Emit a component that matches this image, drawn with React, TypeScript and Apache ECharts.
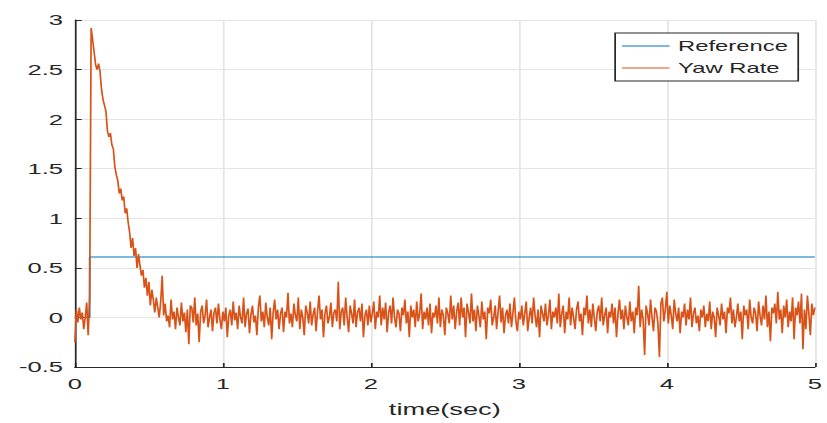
import React, { useEffect, useRef } from "react";
import * as echarts from "echarts";

// sampling step of the recorded signal (seconds)
const sampleStep = 0.01;

// Reference command (step at t = 0.1 s)
const referenceTimes = [0, 0.1, 0.1, 5];
const referenceValues = [0, 0, 0.61, 0.61];

// Yaw rate, t = 0.00 .. 0.10 s
const yawRatePre = [-0.25, 0.08, -0.05, 0.1, -0.02, 0.05, -0.12, 0.0, 0.15, -0.18, 0.22];

// Yaw rate, t = 0.11 .. 0.59 s (overshoot and decay)
const yawRateDecay = [
  2.92, 2.8, 2.68, 2.55, 2.5, 2.56, 2.48, 2.3, 2.2, 2.14, 2.08, 1.88, 1.82, 1.86, 1.74, 1.7, 1.52, 1.44, 1.38, 1.25,
  1.3, 1.18, 1.22, 1.05, 1.1, 0.96, 0.86, 0.7, 0.8, 0.62, 0.7, 0.5, 0.64, 0.52, 0.42, 0.48, 0.3, 0.4, 0.22, 0.36,
  0.12, 0.28, 0.18, 0.05, 0.2, 0.1, 0.0, 0.16, 0.42,
];

// Yaw rate, t = 0.60 .. 5.00 s (steady state noise)
const yawRateSteady = [
  0.02, 0.14, -0.04, 0.02, -0.1, 0.18, -0.02, 0.06, -0.12, 0.1, 0.0, -0.08, 0.15, -0.04, 0.05, -0.15, 0.08, -0.27, 0.12, 0.1,
  -0.05, 0.2, -0.08, 0.04, -0.25, 0.06, 0.12, -0.06, 0.02, 0.18, -0.1, 0.0, 0.08, -0.14, 0.05, 0.1, -0.06, 0.14, -0.02, -0.12,
  0.06, -0.04, 0.1, -0.2, 0.02, 0.08, -0.08, 0.16, -0.03, 0.05, -0.12, 0.12, 0.0, -0.06, 0.2, -0.1, 0.04, 0.09, -0.16, 0.03,
  0.12, -0.05, 0.02, -0.18, 0.1, 0.22, -0.04, 0.06, -0.1, 0.15, 0.0, -0.08, 0.1, -0.22, 0.05, 0.18, -0.02, 0.08, -0.12, 0.04,
  0.1, -0.15, 0.06, 0.0, 0.25, -0.06, 0.04, -0.1, 0.14, 0.02, -0.04, 0.2, -0.12, 0.08, 0.0, -0.18, 0.12, 0.05, -0.06, 0.16,
  -0.08, 0.03, 0.1, -0.14, 0.06, 0.22, -0.02, 0.08, -0.2, 0.04, 0.12, -0.06, 0.0, 0.15, -0.1, 0.05, 0.08, -0.04, 0.36, -0.12,
  0.06, 0.1, -0.08, 0.2, 0.0, -0.15, 0.12, 0.04, -0.06, 0.18, -0.1, 0.05, 0.1, -0.04, 0.14, -0.2, 0.02, 0.08, -0.08, 0.12,
  -0.05, 0.04, 0.16, -0.12, 0.06, 0.0, 0.22, -0.08, 0.1, -0.02, 0.15, -0.15, 0.05, 0.12, -0.06, 0.2, 0.0, -0.1, 0.08, 0.04,
  -0.14, 0.1, 0.02, 0.18, -0.06, 0.06, -0.2, 0.12, 0.0, 0.08, -0.1, 0.16, -0.04, 0.04, 0.24, -0.12, 0.06, -0.02, 0.1, -0.08,
  0.14, -0.16, 0.05, 0.0, 0.12, -0.06, 0.2, -0.1, 0.08, 0.02, -0.18, 0.1, 0.04, -0.06, 0.22, -0.02, 0.12, -0.12, 0.06, 0.15,
  -0.08, 0.2, 0.0, 0.1, -0.2, 0.14, 0.05, -0.06, 0.24, -0.04, 0.08, -0.14, 0.12, 0.02, -0.1, 0.16, -0.02, 0.06, -0.22, 0.1,
  0.04, 0.18, -0.08, 0.0, 0.12, -0.12, 0.06, 0.22, -0.05, 0.1, -0.16, 0.02, 0.08, -0.06, 0.14, -0.1, 0.04, 0.2, -0.04, -0.14,
  0.06, -0.02, 0.12, -0.08, 0.04, 0.16, -0.14, 0.0, 0.1, -0.06, 0.2, 0.02, -0.1, 0.08, -0.2, 0.12, 0.04, -0.04, 0.14, -0.08,
  0.02, 0.18, -0.12, 0.06, 0.0, 0.1, -0.06, 0.24, -0.1, 0.04, 0.12, -0.16, 0.06, -0.02, 0.2, -0.08, 0.1, 0.0, -0.12, 0.08,
  0.16, -0.04, 0.04, -0.18, 0.1, 0.02, 0.22, -0.06, 0.08, -0.1, 0.14, 0.0, -0.14, 0.06, 0.12, -0.04, 0.2, -0.08, 0.02, 0.1,
  -0.16, 0.06, 0.0, 0.14, -0.06, 0.1, -0.2, 0.04, 0.18, -0.02, 0.08, -0.12, 0.12, 0.0, -0.08, 0.16, -0.04, 0.06, -0.16, 0.1,
  0.02, 0.32, -0.1, 0.08, -0.02, -0.38, 0.12, 0.04, -0.08, 0.18, 0.0, -0.14, 0.1, 0.06, -0.06, -0.4, 0.14, 0.2, -0.04, 0.08,
  0.26, -0.06, 0.12, 0.02, -0.12, 0.18, 0.04, -0.04, 0.1, -0.16, 0.06, 0.0, 0.14, -0.08, 0.08, -0.02, 0.2, -0.1, 0.04, 0.1,
  -0.06, 0.02, -0.14, 0.08, 0.0, 0.12, -0.1, 0.04, -0.04, 0.16, -0.12, 0.06, 0.0, -0.2, 0.1, 0.02, -0.08, 0.14, -0.02, 0.06,
  -0.16, 0.1, 0.04, 0.2, -0.06, 0.08, -0.1, 0.0, 0.14, -0.04, 0.06, -0.22, 0.12, 0.02, 0.08, -0.12, 0.18, 0.0, -0.06, 0.1,
  0.04, -0.14, 0.16, 0.02, -0.08, 0.12, -0.02, 0.22, -0.1, 0.06, -0.24, 0.1, 0.04, 0.14, -0.06, 0.26, -0.02, 0.08, -0.16, 0.12,
  0.0, 0.18, -0.1, 0.06, -0.04, 0.2, -0.22, 0.1, 0.02, 0.16, -0.06, 0.24, -0.32, 0.08, -0.12, 0.22, 0.04, -0.18, 0.14, 0.02, 0.1,
];

const seriesNames = ["Reference", "Yaw Rate"];
const seriesColors = ["#0072BD", "#D95319"];
const xRange = [0, 5];
const yRange = [-0.5, 3];

// The reference picture is horizontally stretched; render narrower and stretch.
const PAGE_W = 827;
const PAGE_H = 423;
const CHART_W = 486;
const STRETCH = PAGE_W / CHART_W;

const FONT = "'Liberation Sans', Arial, sans-serif";
const INK = "#262626";
const GRID = "#e4e4e4";

export default function App() {
  const ref = useRef<HTMLDivElement>(null);

  useEffect(() => {
    if (!ref.current) return;
    const chart = echarts.init(ref.current, undefined, { renderer: "svg" });

    const yawRate = [...yawRatePre, ...yawRateDecay, ...yawRateSteady];
    const yawData = yawRate.map((v, i) => [Number((i * sampleStep).toFixed(2)), v]);
    const refData = referenceTimes.map((t, i) => [t, referenceValues[i]]);

    const axisCommon = {
      axisLine: { show: true, onZero: false, lineStyle: { color: INK, width: 1 } },
      axisTick: { show: true, inside: true, length: 4, lineStyle: { color: INK, width: 1 } },
      splitLine: { show: true, lineStyle: { color: GRID, width: 1 } },
    };

    chart.setOption({
      animation: false,
      backgroundColor: "#ffffff",
      grid: { left: 44, right: 6.5, top: 20, bottom: 53, containLabel: false },
      legend: {
        data: seriesNames.map((n) => ({ name: n, icon: "rect" })),
        orient: "vertical",
        left: 361.5,
        top: 33,
        itemWidth: 28,
        itemHeight: 1,
        itemGap: 6,
        padding: [5, 6, 5, 4],
        backgroundColor: "#ffffff",
        borderColor: INK,
        borderWidth: 1,
        textStyle: { fontSize: 14, color: INK, fontFamily: FONT, lineHeight: 16 },
      },
      xAxis: {
        type: "value",
        min: xRange[0],
        max: xRange[1],
        interval: 1,
        name: "time(sec)",
        nameLocation: "middle",
        nameGap: 35,
        nameTextStyle: { fontSize: 16, color: INK, fontFamily: FONT },
        axisLabel: { fontSize: 15, color: INK, fontFamily: FONT, margin: 9 },
        ...axisCommon,
      },
      yAxis: {
        type: "value",
        min: yRange[0],
        max: yRange[1],
        interval: 0.5,
        axisLabel: { fontSize: 15, color: INK, fontFamily: FONT, margin: 7 },
        ...axisCommon,
      },
      series: [
        {
          name: seriesNames[0],
          type: "line",
          data: refData,
          symbol: "none",
          showSymbol: false,
          lineStyle: { color: seriesColors[0], width: 1 },
          itemStyle: { color: seriesColors[0] },
          z: 2,
        },
        {
          name: seriesNames[1],
          type: "line",
          data: yawData,
          symbol: "none",
          showSymbol: false,
          lineStyle: { color: seriesColors[1], width: 1 },
          itemStyle: { color: seriesColors[1] },
          z: 3,
        },
      ],
    });

    return () => chart.dispose();
  }, []);

  return (
    <div
      style={{
        position: "absolute",
        left: 0,
        top: 0,
        width: PAGE_W,
        height: PAGE_H,
        overflow: "hidden",
        background: "#ffffff",
      }}
    >
      <div
        ref={ref}
        style={{
          width: CHART_W,
          height: PAGE_H,
          transform: `scaleX(${STRETCH})`,
          transformOrigin: "0 0",
        }}
      />
    </div>
  );
}
